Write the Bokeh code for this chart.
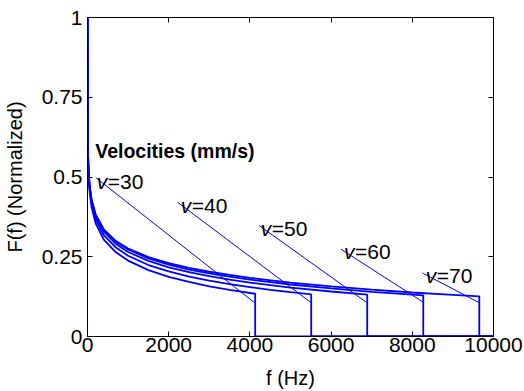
from bokeh.plotting import figure
from bokeh.models import Label, LinearAxis, FixedTicker, Range1d
from bokeh.embed import file_html
from bokeh.resources import INLINE

# ---- data ----
velocities = [30, 40, 50, 60, 70]
cutoff_hz = [4130, 5510, 6890, 8270, 9650]

freq_v30 = [0, 10, 25, 50, 100, 200, 400, 700, 1000, 1500, 2000, 2500, 3000, 3500, 4130]
F_v30 = [1.0, 0.574, 0.507, 0.456, 0.406, 0.355, 0.304, 0.264, 0.238, 0.208, 0.187, 0.171, 0.157, 0.146, 0.134]

freq_v40 = [0, 10, 25, 50, 100, 200, 400, 700, 1000, 1500, 2000, 2500, 3000, 3500, 4000, 4500, 5000, 5510]
F_v40 = [1.0, 0.580, 0.515, 0.466, 0.417, 0.367, 0.318, 0.279, 0.253, 0.224, 0.204, 0.188, 0.175, 0.164, 0.155, 0.146, 0.139, 0.132]

freq_v50 = [0, 10, 25, 50, 100, 200, 400, 700, 1000, 1500, 2000, 2500, 3000, 3500, 4000, 5000, 6000, 6890]
F_v50 = [1.0, 0.585, 0.522, 0.473, 0.425, 0.377, 0.329, 0.290, 0.265, 0.237, 0.217, 0.2015, 0.189, 0.178, 0.169, 0.153, 0.141, 0.131]

freq_v60 = [0, 10, 25, 50, 100, 200, 400, 700, 1000, 1500, 2000, 2500, 3000, 3500, 4000, 5000, 6000, 7000, 8270]
F_v60 = [1.0, 0.586, 0.523, 0.476, 0.429, 0.382, 0.335, 0.297, 0.273, 0.245, 0.2255, 0.210, 0.198, 0.1875, 0.178, 0.163, 0.151, 0.140, 0.129]

freq_v70 = [0, 10, 25, 50, 100, 200, 400, 700, 1000, 1500, 2000, 2500, 3000, 3500, 4000, 5000, 6000, 7000, 8000, 9000, 9650]
F_v70 = [1.0, 0.580, 0.519, 0.473, 0.428, 0.382, 0.336, 0.299, 0.276, 0.249, 0.230, 0.215, 0.203, 0.193, 0.184, 0.169, 0.157, 0.147, 0.138, 0.1306, 0.126]

freq_max = 10000

# leader lines from each label to its curve's cutoff
leader_start_f = [204, 2217, 4227, 6240, 8251]
leader_start_F = [0.498, 0.421, 0.348, 0.274, 0.199]
leader_end_f = [4104, 5500, 6872, 8276, 9663]
leader_end_F = [0.107, 0.107, 0.107, 0.107, 0.105]

# label anchors
label_f = [229, 2298, 4268, 6320, 8333]
label_F = [0.485, 0.412, 0.339, 0.266, 0.190]

x_ticks = [0, 2000, 4000, 6000, 8000, 10000]
x_tick_labels = ["0", "2000", "4000", "6000", "8000", "10000"]
y_ticks = [0, 0.25, 0.5, 0.75, 1]
y_tick_labels = ["0", "0.25", "0.5", "0.75", "1"]

title_text = "Velocities (mm/s)"
x_title = "f (Hz)"
y_title = "F(f) (Normalized)"

FONT = "Liberation Sans"
BLUE = "#0000ff"

p = figure(frame_width=406, frame_height=319, output_backend="svg",
           toolbar_location=None, x_range=Range1d(0, 10000), y_range=Range1d(0, 1),
           min_border_left=87, min_border_right=31, min_border_top=17, min_border_bottom=55,
           background_fill_color="white", border_fill_color="white")
p.grid.visible = False
p.outline_line_color = "black"

freqs = [freq_v30, freq_v40, freq_v50, freq_v60, freq_v70]
vals = [F_v30, F_v40, F_v50, F_v60, F_v70]
for fr, vv, fc in zip(freqs, vals, cutoff_hz):
    xs = list(fr) + [fc, freq_max]
    ys = list(vv) + [0, 0]
    p.line(xs, ys, line_color=BLUE, line_width=1.8)

for x0, y0, x1, y1 in zip(leader_start_f, leader_start_F, leader_end_f, leader_end_F):
    p.line([x0, x1], [y0, y1], line_color=BLUE, line_width=1)

for v, lx, ly in zip(velocities, label_f, label_F):
    p.add_layout(Label(x=lx, y=ly, text="v", text_font=FONT, text_font_style="italic",
                       text_color="black",
                       text_font_size="21px", text_baseline="alphabetic", text_align="left"))
    p.add_layout(Label(x=lx, y=ly, x_offset=11, text="=" + str(v), text_font=FONT,
                       text_color="black",
                       text_font_size="21px", text_baseline="alphabetic", text_align="left"))

p.add_layout(Label(x=190, y=0.582, text=title_text, text_font=FONT, text_font_style="bold",
                   text_color="black",
                   text_font_size="19.5px", text_baseline="alphabetic", text_align="left"))

# axes styling
for ax in [p.xaxis[0], p.yaxis[0]]:
    ax.major_tick_in = 5
    ax.major_tick_out = 0
    ax.minor_tick_line_color = None
    ax.axis_line_color = "black"
    ax.major_tick_line_color = "black"
    ax.major_label_text_font = FONT
    ax.major_label_text_font_size = "21px"
    ax.major_label_text_color = "black"
    ax.major_label_text_line_height = 1.0
    ax.axis_label_text_font = FONT
    ax.axis_label_text_font_size = "20px"
    ax.axis_label_text_font_style = "normal"
    ax.axis_label_text_color = "black"
    ax.axis_label_text_line_height = 1.0

p.xaxis[0].axis_label = x_title
p.xaxis[0].axis_label_standoff = 12
p.xaxis[0].ticker = FixedTicker(ticks=x_ticks)
p.xaxis[0].major_label_overrides = dict(zip(x_ticks, x_tick_labels))
p.xaxis[0].major_label_standoff = 1
p.yaxis[0].axis_label = y_title
p.yaxis[0].axis_label_standoff = 13
p.yaxis[0].ticker = FixedTicker(ticks=y_ticks)
p.yaxis[0].major_label_overrides = dict(zip(y_ticks, y_tick_labels))
p.yaxis[0].major_label_standoff = 5

top = LinearAxis(ticker=FixedTicker(ticks=x_ticks), major_tick_in=5, major_tick_out=0,
                 minor_tick_line_color=None, major_label_text_color=None,
                 major_label_text_font_size="1px", axis_line_color="black")
right = LinearAxis(ticker=FixedTicker(ticks=y_ticks), major_tick_in=5, major_tick_out=0,
                   minor_tick_line_color=None, major_label_text_color=None,
                   major_label_text_font_size="1px", axis_line_color="black")
p.add_layout(top, "above")
p.add_layout(right, "right")

open("out.html", "w").write(file_html(p, INLINE))
